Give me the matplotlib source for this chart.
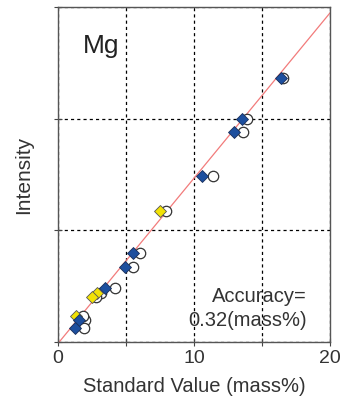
import matplotlib.pyplot as plt
import numpy as np

plt.rcParams['font.family'] = ['Liberation Sans', 'DejaVu Sans']

# standard value (mass%) of the blue diamonds and of the open circles, with intensity
std_blue = [16.40, 13.51, 12.96, 10.57, 5.49, 4.93, 3.46, 1.54, 1.25]
std_blue_open = [16.54, 13.92, 13.63, 11.38, 6.03, 5.54, 4.19, 1.99, 1.91]
int_blue = [23.64, 19.97, 18.78, 14.87, 7.94, 6.69, 4.88, 2.01, 1.23]

std_yellow = [7.50, 2.85, 2.48, 1.32]
std_yellow_open = [7.94, 3.16, 2.79, 1.84]
int_yellow = [11.76, 4.41, 4.06, 2.33]

# calibration line
slope = 1.48
intercept = -0.13

fig = plt.figure(figsize=(3.44, 4.07), dpi=100)
ax = fig.add_axes([0.1686, 0.1597, 0.7907, 0.8231])

xs = np.array([0, 20])
ax.plot(xs, slope * xs + intercept, color='#f27b7b', lw=0.9, zorder=2)

ax.plot(std_blue_open + std_yellow_open, int_blue + int_yellow, 'o', ms=7.5,
        mfc='white', mec='#333333', mew=0.9, ls='none', zorder=3)
ax.plot(std_yellow, int_yellow, 'D', ms=6.5, mfc='#f2e205', mec='#555555',
        mew=0.6, ls='none', zorder=4)
ax.plot(std_blue, int_blue, 'D', ms=6.5, mfc='#1d4f9e', mec='#1a2f5a',
        mew=0.6, ls='none', zorder=5)

ax.set_xlim(0, 20)
ax.set_ylim(0, 30)
ax.set_xticks([0, 5, 10, 15, 20])
ax.set_xticklabels(['0', '', '10', '', '20'])
ax.set_yticks([0, 10, 20, 30])
ax.set_yticklabels([])
ax.tick_params(direction='inout', length=6, width=0.8, colors='#444444',
               labelsize=14, labelcolor='#333333', pad=3)
ax.grid(True, color='black', ls=(0, (2.5, 2.5)), lw=0.9)

for s in ax.spines.values():
    s.set_color('#555555')
    s.set_linewidth(1.0)

ax.set_xlabel('Standard Value (mass%)', fontsize=14.5, color='#333333', labelpad=7)
ax.set_ylabel('Intensity', fontsize=15, color='#333333', labelpad=12)

ax.text(0.09, 0.885, 'Mg', transform=ax.transAxes, fontsize=19, color='#222222',
        va='center', ha='left')
ax.text(0.915, 0.135, 'Accuracy=', transform=ax.transAxes, fontsize=14.5,
        color='#333333', ha='right', va='center')
ax.text(0.915, 0.065, '0.32(mass%)', transform=ax.transAxes, fontsize=14.5,
        color='#333333', ha='right', va='center')

fig.savefig('out.png', dpi=100)
